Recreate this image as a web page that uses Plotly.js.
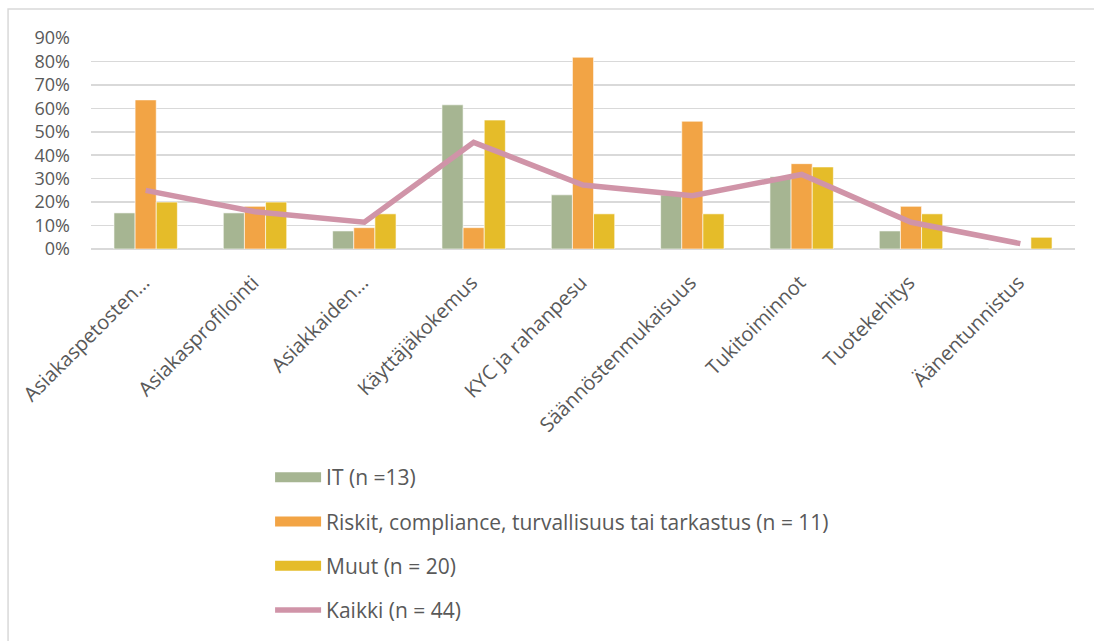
<!DOCTYPE html>
<html>
<head>
<meta charset="utf-8">
<script src="https://cdn.plot.ly/plotly-3.0.1.min.js"></script>
<style>
html,body{margin:0;padding:0;background:#fff;}
#chart{width:1094px;height:641px;}
</style>
</head>
<body>
<div id="chart"></div>
<script>
const categories = ["Asiakaspetosten…","Asiakasprofilointi","Asiakkaiden…","Käyttäjäkokemus","KYC ja rahanpesu","Säännöstenmukaisuus","Tukitoiminnot","Tuotekehitys","Äänentunnistus"];
const itValues = [0.154,0.154,0.077,0.615,0.231,0.231,0.308,0.077,0];
const riskitValues = [0.636,0.182,0.091,0.091,0.818,0.545,0.364,0.182,0];
const muutValues = [0.20,0.20,0.15,0.55,0.15,0.15,0.35,0.15,0.05];
const kaikkiValues = [0.25,0.159,0.114,0.455,0.273,0.227,0.318,0.114,0.023];
const seriesNames = ["IT (n =13)","Riskit, compliance, turvallisuus tai tarkastus (n = 11)","Muut (n = 20)","Kaikki (n = 44)"];
const tickVals = [0,0.1,0.2,0.3,0.4,0.5,0.6,0.7,0.8,0.9];
const tickText = ["0%","10%","20%","30%","40%","50%","60%","70%","80%","90%"];

const font = "'Open Sans', 'DejaVu Sans', sans-serif";
const txt = "#595959";
const colors = ["#A6B592","#F2A445","#E5BC29","#D094A8"];
const valueSets = [itValues, riskitValues, muutValues];

const traces = [];
valueSets.forEach((vals, i) => {
  traces.push({type:"bar", x:categories, y:vals, name:seriesNames[i], showlegend:false,
    legendgroup:"g"+i,
    marker:{color:colors[i], line:{color:"rgba(255,255,255,0.6)", width:1}}});
});
// legend entries for the bar series (wide swatches like the original)
valueSets.forEach((vals, i) => {
  traces.push({type:"scatter", mode:"lines", x:[categories[0]], y:[null], name:seriesNames[i],
    legendgroup:"g"+i, showlegend:true, hoverinfo:"skip",
    line:{color:colors[i], width:10}});
});
traces.push({type:"scatter", mode:"lines", x:categories, y:kaikkiValues, name:seriesNames[3],
  legendgroup:"g3", line:{color:colors[3], width:5.5}});

const layout = {
  width:1094, height:641,
  margin:{l:91, r:19, t:38, b:392},
  paper_bgcolor:"#fff", plot_bgcolor:"#fff",
  barmode:"group", bargap:0.42, bargroupgap:0,
  showlegend:true,
  hovermode:false,
  font:{family:font, color:txt, size:21},
  xaxis:{
    type:"category", tickangle:-45, tickfont:{size:20, color:txt, family:font},
    showgrid:false, showline:false, zeroline:false, ticks:"", automargin:false,
    ticklabelstandoff:17, ticklabelshift:-2
  },
  yaxis:{
    range:[0,0.9], tickvals:tickVals, ticktext:tickText,
    tickfont:{size:18, color:txt, family:font},
    showgrid:true, gridcolor:"#D9D9D9", gridwidth:1.5,
    zeroline:true, zerolinecolor:"#D9D9D9", zerolinewidth:1.5,
    showline:false, ticks:"", ticklabelstandoff:20, automargin:false
  },
  legend:{
    orientation:"v", xref:"paper", x:0.182, xanchor:"left",
    yref:"container", y:0.287, yanchor:"top",
    font:{size:21, color:txt, family:font},
    tracegroupgap:14, itemwidth:46, traceorder:"grouped",
    bgcolor:"rgba(0,0,0,0)"
  },
  shapes:[
    {type:"rect", xref:"paper", yref:"paper", x0:-0.0843, x1:3, y0:-5, y1:1.137,
     line:{color:"#D9D9D9", width:1.5}, fillcolor:"rgba(0,0,0,0)", layer:"below"}
  ]
};

Plotly.newPlot("chart", traces, layout, {displayModeBar:false, staticPlot:true});
</script>
</body>
</html>
